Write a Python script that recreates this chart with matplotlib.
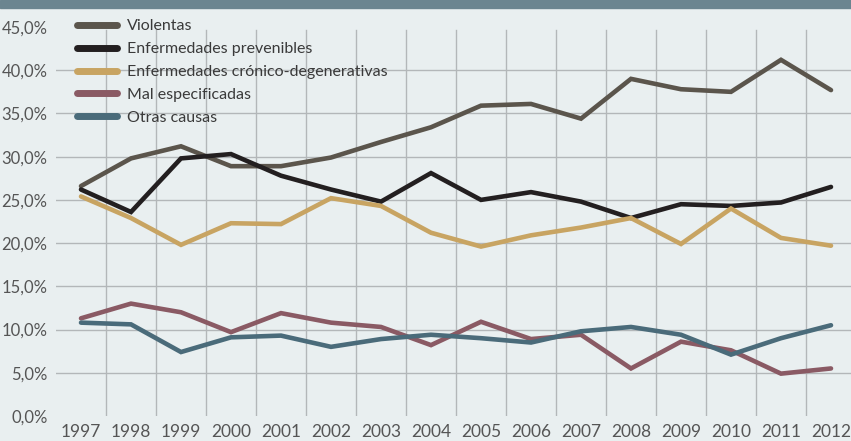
import matplotlib
matplotlib.use("Agg")
import matplotlib.pyplot as plt
from matplotlib.patches import Rectangle

# Datos (% de defunciones por grupo de causa)
years = ["1997", "1998", "1999", "2000", "2001", "2002", "2003", "2004",
         "2005", "2006", "2007", "2008", "2009", "2010", "2011", "2012"]
violentas = [26.6, 29.8, 31.2, 28.9, 28.9, 29.9, 31.7, 33.4,
             35.9, 36.1, 34.4, 39.0, 37.8, 37.5, 41.2, 37.7]
prevenibles = [26.2, 23.6, 29.8, 30.3, 27.8, 26.2, 24.8, 28.1,
               25.0, 25.9, 24.8, 22.9, 24.5, 24.3, 24.7, 26.5]
cronicas = [25.4, 22.9, 19.8, 22.3, 22.2, 25.2, 24.3, 21.2,
            19.6, 20.9, 21.8, 22.9, 19.9, 24.0, 20.6, 19.7]
mal_espec = [11.3, 13.0, 12.0, 9.7, 11.9, 10.8, 10.3, 8.2,
             10.9, 8.9, 9.4, 5.5, 8.6, 7.6, 4.9, 5.5]
otras = [10.8, 10.6, 7.4, 9.1, 9.3, 8.0, 8.9, 9.4,
         9.0, 8.5, 9.8, 10.3, 9.4, 7.1, 9.0, 10.5]

series = [
    ("Violentas", violentas, "#5b554c"),
    ("Enfermedades prevenibles", prevenibles, "#231f20"),
    ("Enfermedades crónico-degenerativas", cronicas, "#c8a462"),
    ("Mal especificadas", mal_espec, "#8a5a64"),
    ("Otras causas", otras, "#4a6b7a"),
]

plt.rcParams["font.family"] = ["Lato", "DejaVu Sans"]

bg = "#e9eff0"
fig = plt.figure(figsize=(8.51, 4.41), dpi=100, facecolor=bg)
ax = fig.add_axes([56 / 851, 1 - 416 / 441, 795 / 851, 389 / 441])
ax.set_facecolor(bg)

# barra superior
fig.patches.append(Rectangle((0, 1 - 8 / 441), 1, 8 / 441, transform=fig.transFigure,
                             color="#6b8590", zorder=0))

x = list(range(len(years)))
grid_c = "#b3b7b9"
for yv in range(5, 45, 5):
    ax.axhline(yv, color=grid_c, lw=1.0, zorder=1)
for xv in range(len(years) - 1):
    ax.axvline(xv + 0.5, ymax=44.6 / 45, color=grid_c, lw=1.0, zorder=1)

for name, vals, col in series:
    ax.plot(x, vals, color=col, lw=3.3, label=name, solid_joinstyle="miter",
            solid_capstyle="round", zorder=3)

ax.set_xlim(-0.5, 15.4)
ax.set_ylim(0, 45)
ax.set_xticks(x)
ax.set_xticklabels(years)
ax.set_yticks(range(0, 50, 5))
ax.set_yticklabels([f"{v},0%" for v in range(0, 50, 5)])
ax.tick_params(length=0, labelcolor="#555555")
for lab in ax.get_xticklabels():
    lab.set_fontsize(12.5)
for lab in ax.get_yticklabels():
    lab.set_fontsize(12)
ax.tick_params(axis="x", pad=6)
ax.tick_params(axis="y", pad=6)
for s in ax.spines.values():
    s.set_visible(False)

leg = ax.legend(loc="upper left", bbox_to_anchor=(77 / 851, 1 - 19 / 441),
                bbox_transform=fig.transFigure, frameon=False,
                borderaxespad=0, borderpad=0,
                handlelength=2.5, handletextpad=0.6, labelspacing=0.55,
                prop={"size": 11.5})
for t in leg.get_texts():
    t.set_color("#3a3a3a")
for h in leg.get_lines():
    h.set_linewidth(5)
    h.set_solid_capstyle("round")

fig.savefig("out.png", dpi=100, facecolor=bg)
